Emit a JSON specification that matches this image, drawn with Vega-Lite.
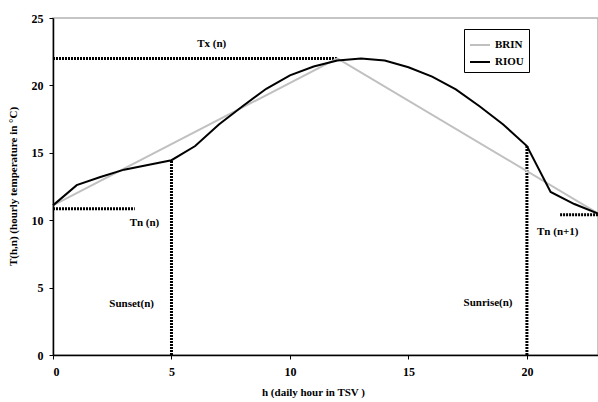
{
  "$schema": "https://vega.github.io/schema/vega-lite/v6.json",
  "width": 545,
  "height": 337,
  "autosize": "none",
  "padding": {"left": 53, "top": 18, "right": 0, "bottom": 47},
  "background": "white",
  "config": {
    "view": {"stroke": "#b3b3b3", "strokeWidth": 1.5},
    "font": "Liberation Serif",
    "axis": {
      "labelFont": "Liberation Serif",
      "labelFontWeight": "bold",
      "labelFontSize": 12,
      "labelColor": "#000000",
      "titleFont": "Liberation Serif",
      "titleFontWeight": "bold",
      "titleFontSize": 11,
      "titleColor": "#000000",
      "domainColor": "#000000",
      "domainWidth": 1.5,
      "tickColor": "#000000",
      "tickSize": 4,
      "grid": false
    },
    "legend": {
      "labelFont": "Liberation Serif",
      "labelFontWeight": "bold",
      "labelFontSize": 11,
      "labelColor": "#000000"
    }
  },
  "datasets": {
    "curves": [
      {"model": "BRIN", "h": 0, "t": 11.1},
      {"model": "BRIN", "h": 12, "t": 22.0},
      {"model": "BRIN", "h": 23, "t": 10.5},
      {"model": "RIOU", "h": 0, "t": 11.1},
      {"model": "RIOU", "h": 1, "t": 12.6},
      {"model": "RIOU", "h": 2, "t": 13.2},
      {"model": "RIOU", "h": 3, "t": 13.75},
      {"model": "RIOU", "h": 4, "t": 14.1},
      {"model": "RIOU", "h": 5, "t": 14.45},
      {"model": "RIOU", "h": 6, "t": 15.5},
      {"model": "RIOU", "h": 7, "t": 17.1},
      {"model": "RIOU", "h": 8, "t": 18.45},
      {"model": "RIOU", "h": 9, "t": 19.75},
      {"model": "RIOU", "h": 10, "t": 20.75},
      {"model": "RIOU", "h": 11, "t": 21.4},
      {"model": "RIOU", "h": 12, "t": 21.85},
      {"model": "RIOU", "h": 13, "t": 22.0},
      {"model": "RIOU", "h": 14, "t": 21.85},
      {"model": "RIOU", "h": 15, "t": 21.35},
      {"model": "RIOU", "h": 16, "t": 20.65},
      {"model": "RIOU", "h": 17, "t": 19.7},
      {"model": "RIOU", "h": 18, "t": 18.45},
      {"model": "RIOU", "h": 19, "t": 17.1},
      {"model": "RIOU", "h": 20, "t": 15.5},
      {"model": "RIOU", "h": 21, "t": 12.1},
      {"model": "RIOU", "h": 22, "t": 11.2},
      {"model": "RIOU", "h": 23, "t": 10.5}
    ],
    "guides": [
      {"name": "Tx", "h": 0, "h2": 12, "t": 22.0, "t2": 22.0},
      {"name": "Tn", "h": 0, "h2": 3.45, "t": 10.85, "t2": 10.85},
      {"name": "Tn1", "h": 21.4, "h2": 23, "t": 10.4, "t2": 10.4},
      {"name": "sunset", "h": 5, "h2": 5, "t": 0, "t2": 14.45},
      {"name": "sunrise", "h": 20, "h2": 20, "t": 0, "t2": 15.5}
    ],
    "notes": [
      {"label": "Tx (n)", "h": 6.7, "t": 23.1},
      {"label": "Tn (n)", "h": 3.86, "t": 9.8},
      {"label": "Sunset(n)", "h": 3.32, "t": 3.8},
      {"label": "Sunrise(n)", "h": 18.36, "t": 3.86},
      {"label": "Tn (n+1)", "h": 21.3, "t": 9.15}
    ]
  },
  "encoding": {
    "x": {
      "field": "h",
      "type": "quantitative",
      "scale": {"domain": [0, 23], "nice": false, "zero": false},
      "axis": {
        "title": "h (daily hour in TSV )",
        "values": [0, 5, 10, 15, 20],
        "labelPadding": 7,
        "titleX": 260,
        "titleY": 31,
        "titleBaseline": "top"
      }
    },
    "y": {
      "field": "t",
      "type": "quantitative",
      "scale": {"domain": [0, 25], "nice": false},
      "axis": {
        "title": "T(h,n) (hourly temperature in °C)",
        "values": [0, 5, 10, 15, 20, 25],
        "labelPadding": 6,
        "titleX": -40,
        "titleY": 168,
        "titleBaseline": "middle",
        "titleAngle": -90
      }
    }
  },
  "layer": [
    {
      "data": {"name": "guides"},
      "mark": {"type": "rule", "stroke": "#000000", "strokeWidth": 3, "strokeDash": [2, 1]},
      "encoding": {
        "x2": {"field": "h2"},
        "y2": {"field": "t2"}
      }
    },
    {
      "data": {"name": "curves"},
      "mark": {"type": "line", "strokeWidth": 2},
      "encoding": {
        "color": {
          "field": "model",
          "type": "nominal",
          "scale": {"domain": ["BRIN", "RIOU"], "range": ["#c0c0c0", "#000000"]},
          "legend": {
            "title": null,
            "orient": "none",
            "legendX": 411,
            "legendY": 11,
            "strokeColor": "#000000",
            "fillColor": "#ffffff",
            "padding": 5,
            "symbolType": "stroke",
            "symbolSize": 400,
            "symbolStrokeWidth": 2,
            "rowPadding": 1,
            "labelOffset": 4
          }
        }
      }
    },
    {
      "data": {"name": "notes"},
      "mark": {"type": "text", "font": "Liberation Serif", "fontWeight": "bold", "fontSize": 11, "align": "center", "baseline": "middle", "color": "#000000"},
      "encoding": {
        "text": {"field": "label"}
      }
    }
  ]
}
